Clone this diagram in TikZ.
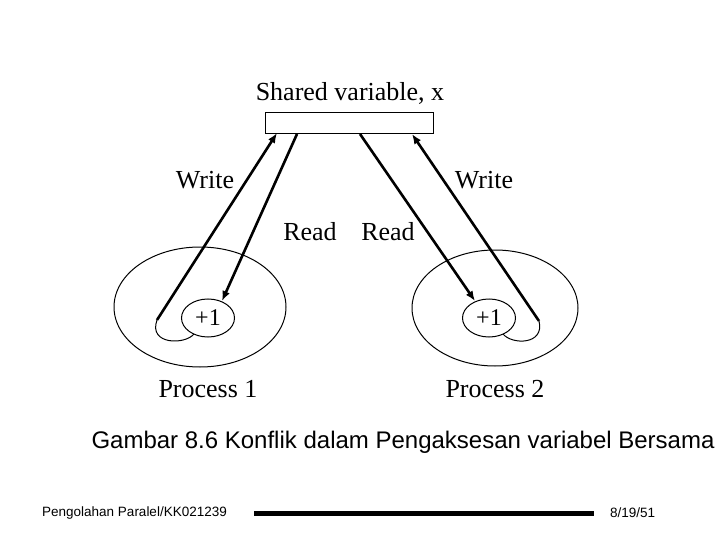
\documentclass[tikz,border=0pt]{standalone}
\usepackage{fontspec}
\setmainfont{Liberation Serif}
\newfontfamily\arial{Liberation Sans}
\usetikzlibrary{arrows.meta,shapes.geometric}
\begin{document}
\begin{tikzpicture}[x=1pt,y=-1pt,
  lbl/.style={font=\fontsize{26}{28}\selectfont},
  arr/.style={line width=2.6pt,-{Latex[length=10pt,width=8pt]}},
  thin/.style={line width=1pt}]
\useasboundingbox (0,0) rectangle (720,540);
\node[lbl] (title) at (350,93) {Shared variable, x};
\node[draw,thin,minimum width=168pt,minimum height=21pt,inner sep=0] (sv) at (349,123) {};
\draw[thin] (200,307) ellipse (86 and 60);
\draw[thin] (495,308) ellipse (83 and 58);
\node[draw,thin,ellipse,minimum width=53pt,minimum height=38pt,inner sep=0,font=\fontsize{24}{26}\selectfont] (p1) at (208,318) {+1};
\node[draw,thin,ellipse,minimum width=53pt,minimum height=38pt,inner sep=0,font=\fontsize{24}{26}\selectfont] (p2) at (489,318) {+1};
\coordinate (w1) at (157,320);
\coordinate (w2) at (539,321);
\coordinate (t1) at (277,133);
\coordinate (t2) at (297,134);
\coordinate (t3) at (360,134);
\coordinate (t4) at (412,134);
\draw[arr] (w1) -- (t1);
\draw[arr] (t2) -- (222,301);
\draw[arr] (t3) -- (475,301);
\draw[arr] (w2) -- (t4);
\draw[thin] (w1) .. controls (148,345) and (185,345) .. (194,334);
\draw[thin] (w2) .. controls (545,345) and (512,345) .. (503,334);
\node[lbl] (wr1) at (205,180) {Write};
\node[lbl] (wr2) at (484,180) {Write};
\node[lbl] (rd1) at (310,232) {Read};
\node[lbl] (rd2) at (388,232) {Read};
\node[lbl] (pr1) at (208,389) {Process 1};
\node[lbl] (pr2) at (495,389) {Process 2};
\node[font=\arial\fontsize{24}{26}\selectfont] (cap) at (403,442) {Gambar 8.6 Konflik dalam Pengaksesan variabel Bersama};
\node[font=\arial\fontsize{13.5}{15}\selectfont,anchor=west,inner sep=0] (ft) at (42,513) {Pengolahan Paralel/KK021239};
\node[font=\arial\fontsize{13.5}{15}\selectfont,anchor=west,inner sep=0] (dt) at (610,513) {8/19/51};
\fill (254,510.5) rectangle (594,515.5);
\end{tikzpicture}
\end{document}
